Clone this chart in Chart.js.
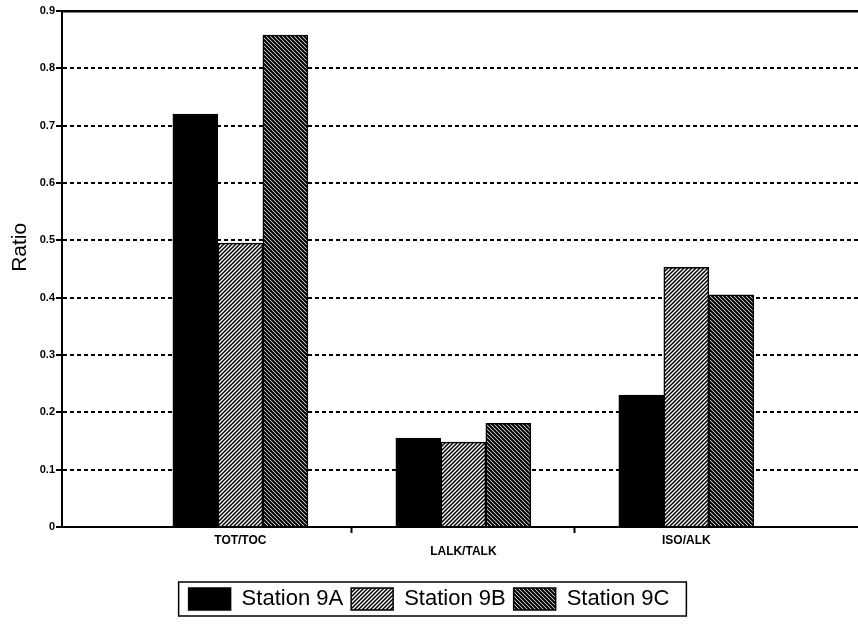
<!DOCTYPE html>
<html>
<head>
<meta charset="utf-8">
<script src="https://cdn.jsdelivr.net/npm/chart.js@4.4.0/dist/chart.umd.min.js"></script>
<style>
  html, body { margin: 0; padding: 0; background: #fff; }
</style>
</head>
<body>
<canvas id="ratioChart" width="858" height="630"></canvas>
<script>
// data
const categories = ['TOT/TOC', 'LALK/TALK', 'ISO/ALK'];
const seriesNames = ['Station 9A', 'Station 9B', 'Station 9C'];
const station9A = [0.72, 0.155, 0.23];
const station9B = [0.495, 0.148, 0.453];
const station9C = [0.858, 0.181, 0.405];
const yTickValues = [0, 0.1, 0.2, 0.3, 0.4, 0.5, 0.6, 0.7, 0.8, 0.9];
const xTickValues = [1, 1.5, 2, 2.5, 3];

Chart.defaults.font.family = "'Liberation Sans', Arial, sans-serif";
Chart.defaults.color = '#000';

// hatch fills for 9B (///) and 9C (\\\)
function hatch(dir, lineWidth) {
  const s = 4;
  const c = document.createElement('canvas');
  c.width = s; c.height = s;
  const g = c.getContext('2d');
  g.fillStyle = '#fff';
  g.fillRect(0, 0, s, s);
  g.strokeStyle = '#000';
  g.lineWidth = lineWidth;
  g.beginPath();
  if (dir === '/') {
    g.moveTo(0, s); g.lineTo(s, 0);
    g.moveTo(-1, 1); g.lineTo(1, -1);
    g.moveTo(s - 1, s + 1); g.lineTo(s + 1, s - 1);
  } else {
    g.moveTo(0, 0); g.lineTo(s, s);
    g.moveTo(-1, s - 1); g.lineTo(1, s + 1);
    g.moveTo(s - 1, -1); g.lineTo(s + 1, 1);
  }
  g.stroke();
  return g.createPattern(c, 'repeat');
}

const toPoints = vals => vals.map((v, i) => ({ x: i + 1, y: v }));
const tickVal = c => (c && c.tick) ? c.tick.value : null;

// y axis title, placed a bit above the middle like the original
const ratioTitle = {
  id: 'ratioTitle',
  afterDraw(chart) {
    const { ctx, chartArea } = chart;
    ctx.save();
    ctx.translate(20, chartArea.top + (chartArea.bottom - chartArea.top) * 0.458);
    ctx.rotate(-Math.PI / 2);
    ctx.font = "21px 'Liberation Sans', Arial, sans-serif";
    ctx.fillStyle = '#000';
    ctx.textAlign = 'center';
    ctx.textBaseline = 'middle';
    ctx.fillText('Ratio', 0, 0);
    ctx.restore();
  }
};

// frame round the legend
const legendFrame = {
  id: 'legendFrame',
  afterDraw(chart) {
    const boxes = chart.legend && chart.legend.legendHitBoxes;
    if (!boxes || !boxes.length) return;
    const first = boxes[0], last = boxes[boxes.length - 1];
    const cy = first.top + first.height / 2;
    const ctx = chart.ctx;
    ctx.save();
    ctx.strokeStyle = '#000';
    ctx.lineWidth = 1.5;
    ctx.strokeRect(first.left - 10, cy - 17, last.left + last.width - first.left + 27, 34);
    ctx.restore();
  }
};

const ctx = document.getElementById('ratioChart').getContext('2d');
const ratioChart = new Chart(ctx, {
  type: 'bar',
  data: {
    datasets: [{
      label: seriesNames[0],
      data: toPoints(station9A),
      backgroundColor: '#000',
      borderColor: '#000',
      borderWidth: 1.5,
      barThickness: 45
    }, {
      label: seriesNames[1],
      data: toPoints(station9B),
      backgroundColor: hatch('/', 1.5),
      borderColor: '#000',
      borderWidth: 1.5,
      barThickness: 45
    }, {
      label: seriesNames[2],
      data: toPoints(station9C),
      backgroundColor: hatch('\\', 2.1),
      borderColor: '#000',
      borderWidth: 1.5,
      barThickness: 45
    }]
  },
  options: {
    responsive: false,
    animation: false,
    layout: { padding: { top: 11, right: 0, bottom: 10, left: 0 } },
    scales: {
      x: {
        type: 'linear',
        min: 0.2,
        max: 3.77,
        offset: false,
        afterBuildTicks: s => { s.ticks = xTickValues.map(v => ({ value: v })); },
        afterFit: s => { s.height = 53; },
        grid: {
          offset: false,
          drawOnChartArea: false,
          tickLength: 6,
          tickWidth: 2,
          tickColor: c => Number.isInteger(tickVal(c)) ? 'rgba(0,0,0,0)' : '#000'
        },
        border: { color: '#000', width: 2 },
        ticks: {
          autoSkip: false,
          maxRotation: 0,
          padding: 2,
          font: { size: 12, weight: 'bold', lineHeight: 0.95 },
          callback: v => {
            if (!Number.isInteger(v)) return '';
            const i = v - 1;
            return i % 2 === 1 ? ['', categories[i]] : categories[i];
          }
        }
      },
      xTop: {
        type: 'linear',
        position: 'top',
        min: 0.2,
        max: 3.77,
        offset: false,
        grid: { display: false, drawTicks: false },
        ticks: { display: false },
        border: { display: true, color: '#000', width: 2.5 }
      },
      y: {
        min: 0,
        max: 0.9,
        afterBuildTicks: s => { s.ticks = yTickValues.map(v => ({ value: v })); },
        afterFit: s => { s.width = 62; },
        grid: {
          lineWidth: 2,
          color: c => (tickVal(c) === 0 || tickVal(c) === 0.9) ? 'rgba(0,0,0,0)' : '#000',
          tickLength: 6,
          tickWidth: 2,
          tickColor: '#000'
        },
        border: { color: '#000', width: 2, dash: [4, 3] },
        ticks: {
          padding: 1,
          font: { size: 11, weight: 'bold' },
          callback: v => String(v)
        }
      }
    },
    plugins: {
      tooltip: { enabled: false },
      legend: {
        position: 'bottom',
        labels: {
          boxWidth: 42,
          boxHeight: 22,
          padding: 8,
          font: { size: 22 }
        }
      }
    }
  },
  plugins: [ratioTitle, legendFrame]
});
</script>
</body>
</html>
